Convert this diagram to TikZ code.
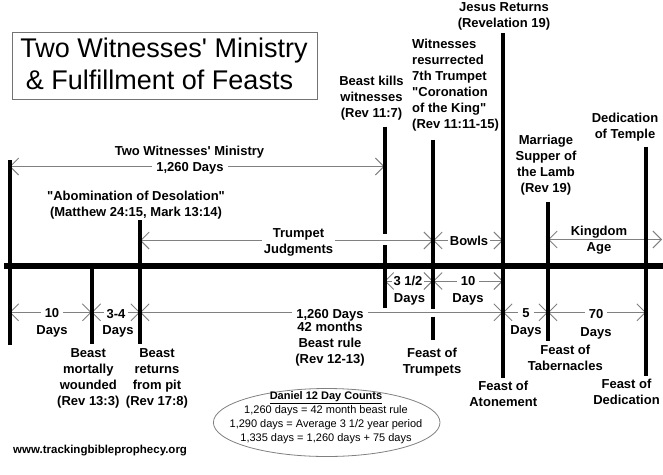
\documentclass[tikz,border=0pt]{standalone}
\usepackage{fontspec}
\setmainfont{Liberation Sans}
\usetikzlibrary{arrows.meta}
\definecolor{ag}{RGB}{128,128,128}
\definecolor{bxg}{RGB}{115,115,115}
\begin{document}
\begin{tikzpicture}[x=1pt,y=-1pt,
  bar/.style={line width=4pt,draw=black},
  axisline/.style={line width=6pt,draw=black},
  span/.style={draw=ag,line width=0.9pt,{Straight Barb[length=8.5pt,width=17pt,line width=0.9pt]}-{Straight Barb[length=8.5pt,width=17pt,line width=0.9pt]}},
  lab/.style={font=\fontsize{13}{16}\selectfont\bfseries,align=center,inner sep=0pt,anchor=north,yshift=11.2pt,execute at begin node=\strut},
  onl/.style={font=\fontsize{13}{16}\selectfont\bfseries,fill=white,inner xsep=4pt,inner ysep=1pt,anchor=base},
  one/.style={font=\fontsize{13}{16}\selectfont\bfseries,inner sep=0pt,anchor=base},
  ttl/.style={font=\fontsize{27}{30}\selectfont,inner sep=0pt,anchor=base},
]
\useasboundingbox (0,0) rectangle (663,474);
% title box
\node[draw=bxg,line width=0.9pt,minimum width=304.5pt,minimum height=66.5pt,inner sep=0pt] (title) at (164.75,65.75) {};
\node[ttl] (t1) at (164,57.3) {Two Witnesses\textquotesingle\ Ministry};
\node[ttl] (t2) at (159.5,89.5) {\& Fulfillment of Feasts};

% coordinates for bars
\coordinate (b1t) at (9.5,160); \coordinate (b1b) at (9.5,345);
\coordinate (b2t) at (91.5,266); \coordinate (b2b) at (91.5,343.5);
\coordinate (b3t) at (140,220); \coordinate (b3b) at (140,344);
\coordinate (b4t) at (384.5,126.5); \coordinate (b4g1) at (384.5,233.5);
\coordinate (b4g2) at (384.5,245); \coordinate (b4b) at (384.5,308);
\coordinate (b5t) at (433,139.5); \coordinate (b5g1) at (433,308.5);
\coordinate (b5g2) at (433,316.5); \coordinate (b5b) at (433,340);
\coordinate (b6t) at (503,33); \coordinate (b6b) at (503,378);
\coordinate (b7t) at (548,201.5); \coordinate (b7b) at (548,340.5);
\coordinate (b8t) at (646,146.5); \coordinate (b8b) at (646,376);
\coordinate (ax1) at (4,266.3); \coordinate (ax2) at (663,266.3);

% arrow end coordinates
\coordinate (tw1) at (9.5,166.5); \coordinate (tw2) at (384.5,166.5);
\coordinate (tr1) at (140,240.5); \coordinate (tr2) at (433,240.5);
\coordinate (bo2) at (503,240.5);
\coordinate (kg1) at (548,239.5); \coordinate (kg2) at (662,239.5);
\coordinate (ud1) at (384.5,281); \coordinate (ud2) at (433,281); \coordinate (ud3) at (503,281);
\coordinate (ld1) at (9.5,312.3); \coordinate (ld2) at (91.5,312.3); \coordinate (ld3) at (140,312.3);
\coordinate (ld4) at (503,312.3); \coordinate (ld5) at (548,312.3); \coordinate (ld6) at (646,312.3);

% spans
\draw[span] (tw1) -- (tw2);
\draw[span] (tr1) -- (tr2);
\draw[span] (tr2) -- (bo2);
\draw[span] (kg1) -- (kg2);
\draw[span] (ud1) -- (ud2);
\draw[span] (ud2) -- (ud3);
\draw[span] (ld1) -- (ld2);
\draw[span] (ld2) -- (ld3);
\draw[span] (ld3) -- (ld4);
\draw[span] (ld4) -- (ld5);
\draw[span] (ld5) -- (ld6);

% bars
\draw[axisline] (ax1) -- (ax2);
\draw[bar] (b1t) -- (b1b);
\draw[bar] (b2t) -- (b2b);
\draw[bar] (b3t) -- (b3b);
\draw[bar] (b4t) -- (b4g1);
\draw[bar] (b4g2) -- (b4b);
\draw[bar] (b5t) -- (b5g1);
\draw[bar] (b5g2) -- (b5b);
\draw[bar] (b6t) -- (b6b);
\draw[bar] (b7t) -- (b7b);
\draw[bar] (b8t) -- (b8b);

% upper labels
\node[lab] (jr) at (504,13.5) {Jesus Returns\\(Revelation 19)};
\node[lab,align=left,anchor=north west] (wr) at (412,50) {Witnesses\\resurrected\\7th Trumpet\\\textquotedbl Coronation\\of the King\textquotedbl\\(Rev 11:11-15)};
\node[lab] (bk) at (371.5,87.5) {Beast kills\\witnesses\\(Rev 11:7)};
\node[lab] (ms) at (546,146.5) {Marriage\\Supper of\\the Lamb\\(Rev 19)};
\node[lab] (dt) at (625,124.3) {Dedication\\of Temple};
\node[one] (twm) at (189.5,155.5) {Two Witnesses\textquotesingle\ Ministry};
\node[onl] (twd) at (190,171.5) {1,260 Days};
\node[lab] (aod) at (136,202.3) {\textquotedbl Abomination of Desolation\textquotedbl\\(Matthew 24:15, Mark 13:14)};
\node[lab,fill=white,inner xsep=2pt] (tj) at (298.5,240) {Trumpet\\Judgments};
\node[onl,inner xsep=2pt] (bw) at (469,245.7) {Bowls};
\node[one] (kgd) at (599,235) {Kingdom};
\node[onl,inner xsep=10pt,inner ysep=0pt] (age) at (599,251) {Age};

% lower span labels
\node[onl] (n10a) at (52,317.5) {10};
\node[one] (d10a) at (52,334) {Days};
\node[onl,inner xsep=3pt] (n34) at (116,318) {3-4};
\node[one] (d34) at (118,334.5) {Days};
\node[onl] (n1260) at (330,318) {1,260 Days};
\node[lab] (br) at (330,333.5) {42 months\\Beast rule\\(Rev 12-13)};
\node[onl,inner xsep=1.5pt] (n312) at (408,285.7) {3 1/2};
\node[one] (d312) at (409.5,302) {Days};
\node[onl] (n10b) at (468,285.7) {10};
\node[one] (d10b) at (468,302) {Days};
\node[onl] (n5) at (526,317) {5};
\node[one] (d5) at (526,334) {Days};
\node[onl] (n70) at (596,318) {70};
\node[one] (d70) at (596,336) {Days};

% event labels below
\node[lab] (ft) at (432,359) {Feast of\\Trumpets};
\node[lab] (fa) at (503.3,391.7) {Feast of\\Atonement};
\node[lab] (fta) at (565.3,356) {Feast of\\Tabernacles};
\node[lab] (fd) at (626.5,390) {Feast of\\Dedication};
\node[lab] (bmw) at (88.3,360) {Beast\\mortally\\wounded\\(Rev 13:3)};
\node[lab] (brp) at (157,360) {Beast\\returns\\from pit\\(Rev 17:8)};

% website
\node[font=\fontsize{11.5}{14}\selectfont\bfseries,inner sep=0pt,anchor=base west] (web) at (13,453) {www.trackingbibleprophecy.org};

% Daniel 12 ellipse
\draw[ag,line width=0.8pt] (326.7,422.5) ellipse [x radius=113.3pt,y radius=34pt];
\node[font=\fontsize{11}{13.9}\selectfont,align=center,inner sep=0pt,anchor=north,yshift=9.73pt,execute at begin node=\strut] (dan) at (326,401) {\textbf{\underline{Daniel 12 Day Counts}}\\1,260 days = 42 month beast rule\\1,290 days = Average 3 1/2 year period\\1,335 days = 1,260 days + 75 days};
\end{tikzpicture}
\end{document}
